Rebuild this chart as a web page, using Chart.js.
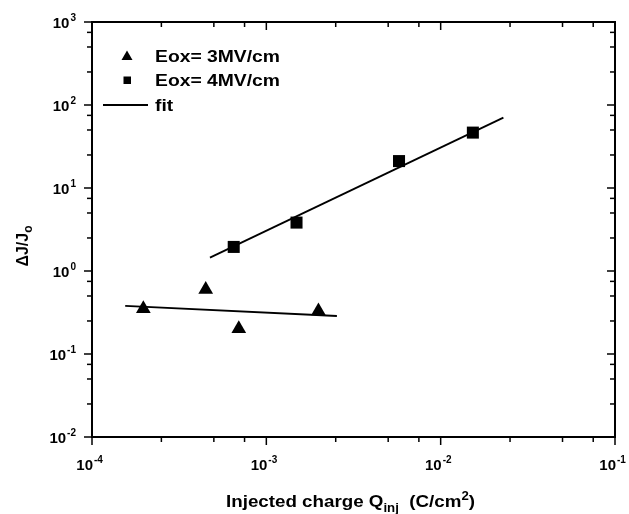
<!DOCTYPE html>
<html>
<head>
<meta charset="utf-8">
<script src="https://cdn.jsdelivr.net/npm/chart.js@4/dist/chart.umd.min.js"></script>
<style>
  html, body { margin: 0; padding: 0; background: #fff; }
  #wrap { width: 629px; height: 514px; }
</style>
</head>
<body>
<div id="wrap"><canvas id="chart" width="629" height="514"></canvas></div>
<script>
// data
const eox3X = [1.97e-4, 4.49e-4, 6.95e-4, 1.99e-3];
const eox3Y = [0.352, 0.597, 0.202, 0.33];
const eox4X = [6.5e-4, 1.49e-3, 5.77e-3, 1.53e-2];
const eox4Y = [1.95, 3.83, 21.1, 46.5];
const fit3X = [1.55e-4, 2.54e-3];
const fit3Y = [0.379, 0.287];
const fit4X = [4.75e-4, 2.29e-2];
const fit4Y = [1.45, 70.5];
const xDecades = [-4, -3, -2, -1];
const yDecades = [-2, -1, 0, 1, 2, 3];
const minorSteps = [2.5, 5, 7.5];
const legendLabels = ['Eox= 3MV/cm', 'Eox= 4MV/cm', 'fit'];

const pts = (xs, ys) => xs.map((x, i) => ({ x, y: ys[i] }));
const FONT = '"Liberation Sans", Arial, sans-serif';

// frame, ticks on all four sides, power-of-ten labels, titles, legend
const decorations = {
  id: 'decorations',
  afterDraw(chart) {
    const { ctx, chartArea: a, scales } = chart;
    const xs = scales.x, ys = scales.y;
    ctx.save();
    ctx.strokeStyle = '#000';
    ctx.fillStyle = '#000';
    ctx.lineWidth = 2;
    ctx.strokeRect(a.left, a.top, a.right - a.left, a.bottom - a.top);

    ctx.lineWidth = 1.5;
    const tick = (x1, y1, x2, y2) => { ctx.beginPath(); ctx.moveTo(x1, y1); ctx.lineTo(x2, y2); ctx.stroke(); };
    xDecades.forEach((d, i) => {
      const px = xs.getPixelForValue(Math.pow(10, d));
      tick(px, a.bottom, px, a.bottom + 8);
      tick(px, a.top, px, a.top + 8);
      if (i < xDecades.length - 1) {
        minorSteps.forEach(m => {
          const mx = xs.getPixelForValue(m * Math.pow(10, d));
          tick(mx, a.bottom, mx, a.bottom + 5);
          tick(mx, a.top, mx, a.top + 5);
        });
      }
    });
    yDecades.forEach((d, i) => {
      const py = ys.getPixelForValue(Math.pow(10, d));
      tick(a.left - 8, py, a.left, py);
      tick(a.right - 8, py, a.right, py);
      if (i < yDecades.length - 1) {
        minorSteps.forEach(m => {
          const my = ys.getPixelForValue(m * Math.pow(10, d));
          tick(a.left - 5, my, a.left, my);
          tick(a.right - 5, my, a.right, my);
        });
      }
    });

    // labels 10^n
    const big = 'bold 15px ' + FONT, small = 'bold 10px ' + FONT;
    const powWidth = (d) => {
      ctx.font = big; const w1 = ctx.measureText('10').width;
      ctx.font = small; const w2 = ctx.measureText(String(d)).width;
      return [w1, w2];
    };
    ctx.textBaseline = 'alphabetic';
    ctx.textAlign = 'left';
    xDecades.forEach(d => {
      const px = xs.getPixelForValue(Math.pow(10, d));
      const [w1, w2] = powWidth(d);
      const x0 = px - w1 + 1;
      ctx.font = big; ctx.fillText('10', x0, 470);
      ctx.font = small; ctx.fillText(String(d), x0 + w1 + 1, 463);
    });
    yDecades.forEach(d => {
      const py = ys.getPixelForValue(Math.pow(10, d));
      const [w1, w2] = powWidth(d);
      const x0 = 76 - w2 - 1 - w1;
      ctx.font = big; ctx.fillText('10', x0, py + 5.5);
      ctx.font = small; ctx.fillText(String(d), x0 + w1 + 1, py - 1.5);
    });

    // text runs drawn with a slight horizontal stretch, like the original
    const drawRuns = (parts, left, base, sx) => {
      ctx.save();
      ctx.translate(left, base);
      ctx.scale(sx, 1);
      let cx = 0;
      parts.forEach(p => {
        ctx.font = p[1];
        ctx.fillText(p[0], cx, p[2]);
        cx += ctx.measureText(p[0]).width;
      });
      ctx.restore();
    };

    // x title
    const tf = 'bold 17px ' + FONT, ts = 'bold 12px ' + FONT;
    const parts = [
      ['Injected charge Q', tf, 0],
      ['inj', ts, 5],
      ['  (C/cm', tf, 0],
      ['2', ts, -7],
      [')', tf, 0]
    ];
    let total = 0;
    parts.forEach(p => { ctx.font = p[1]; total += ctx.measureText(p[0]).width; });
    const xsx = 249 / total;
    drawRuns(parts, 226, 507, xsx);

    // y title (rotated)
    ctx.save();
    ctx.translate(28, 246);
    ctx.rotate(-Math.PI / 2);
    const yf = 'bold 16px ' + FONT, yfs = 'bold 12px ' + FONT;
    ctx.font = yf; const w1 = ctx.measureText('\u0394J/J').width;
    ctx.font = yfs; const w2 = ctx.measureText('o').width;
    const yx = -(w1 + w2) / 2;
    ctx.font = yf; ctx.fillText('\u0394J/J', yx, 0);
    ctx.font = yfs; ctx.fillText('o', yx + w1, 4);
    ctx.restore();

    // legend
    const lf = 'bold 17px ' + FONT;
    ctx.font = lf;
    const lsx = 125 / ctx.measureText(legendLabels[0]).width;
    const rows = [56, 80, 105];
    legendLabels.forEach((t, i) => drawRuns([[t, lf, 0]], 155, rows[i] + 6, lsx));
    ctx.beginPath();
    ctx.moveTo(127, rows[0] - 5.5); ctx.lineTo(132.5, rows[0] + 4); ctx.lineTo(121.5, rows[0] + 4);
    ctx.closePath(); ctx.fill();
    ctx.fillRect(123.5, rows[1] - 3.5, 7.5, 7.5);
    ctx.lineWidth = 2;
    tick(103, rows[2], 148, rows[2]);
    ctx.restore();
  }
};

new Chart(document.getElementById('chart'), {
  type: 'scatter',
  data: {
    datasets: [
      {
        label: legendLabels[0], data: pts(eox3X, eox3Y),
        pointStyle: 'triangle', pointRadius: 8.5, pointHoverRadius: 8.5,
        backgroundColor: '#000', borderColor: '#000', borderWidth: 0
      },
      {
        label: legendLabels[1], data: pts(eox4X, eox4Y),
        pointStyle: 'rect', pointRadius: 8.5, pointHoverRadius: 8.5,
        backgroundColor: '#000', borderColor: '#000', borderWidth: 0
      },
      {
        label: 'fit 3', data: pts(fit3X, fit3Y), type: 'line',
        showLine: true, pointRadius: 0, borderColor: '#000', borderWidth: 1.8, fill: false
      },
      {
        label: 'fit 4', data: pts(fit4X, fit4Y), type: 'line',
        showLine: true, pointRadius: 0, borderColor: '#000', borderWidth: 1.8, fill: false
      }
    ]
  },
  options: {
    responsive: false,
    animation: false,
    layout: { padding: { top: 22, right: 14, left: 0, bottom: 0 } },
    plugins: { legend: { display: false }, tooltip: { enabled: false } },
    scales: {
      x: {
        type: 'logarithmic', min: 1e-4, max: 1e-1,
        grid: { display: false }, border: { display: false },
        ticks: { display: false },
        afterFit(s) { s.height = 77; }
      },
      y: {
        type: 'logarithmic', min: 1e-2, max: 1e3,
        grid: { display: false }, border: { display: false },
        ticks: { display: false },
        afterFit(s) { s.width = 92; }
      }
    }
  },
  plugins: [decorations]
});
</script>
</body>
</html>
